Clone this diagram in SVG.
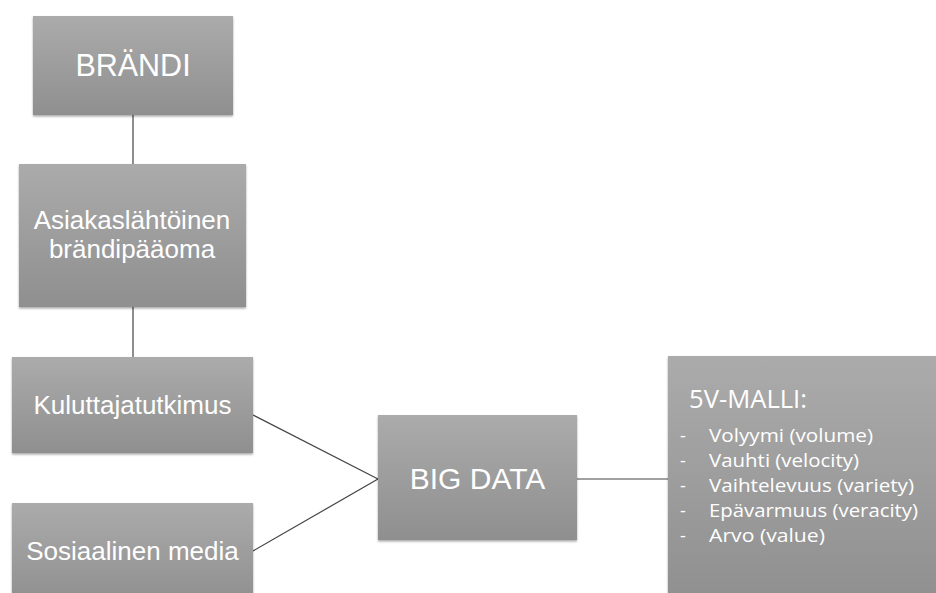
<svg xmlns="http://www.w3.org/2000/svg" width="936" height="593" viewBox="0 0 936 593">
  <defs>
    <linearGradient id="boxFill" x1="0" y1="0" x2="0" y2="1">
      <stop offset="0" stop-color="#ababab"/>
      <stop offset="1" stop-color="#8f8f8f"/>
    </linearGradient>
    <filter id="shadow" x="-5%" y="-5%" width="110%" height="115%">
      <feDropShadow dx="0" dy="1.5" stdDeviation="1.2" flood-color="#000" flood-opacity="0.35"/>
    </filter>
  </defs>
  <style>
    .box { fill: url(#boxFill); filter: url(#shadow); }
    .lbl { fill: #ffffff; font-family: "Liberation Sans", Arial, sans-serif; text-anchor: middle; }
    .list { fill: #ffffff; font-family: "Open Sans", "Noto Sans", sans-serif; }
    .conn { stroke: #444; stroke-width: 1.2; fill: none; }
  </style>
  <rect width="936" height="593" fill="#ffffff"/>

  <g id="connectors">
    <line class="conn" x1="133" y1="115" x2="133" y2="164"/>
    <line class="conn" x1="133" y1="307" x2="133" y2="357"/>
    <line class="conn" x1="253" y1="415" x2="378" y2="479"/>
    <line class="conn" x1="253" y1="551" x2="378" y2="479"/>
    <line class="conn" x1="577" y1="479" x2="668" y2="479"/>
  </g>

  <g id="brandi">
    <rect class="box" x="33" y="16" width="200" height="99"/>
    <text class="lbl" x="133" y="76" font-size="30.5">BRÄNDI</text>
  </g>

  <g id="asiakaslahtoinen">
    <rect class="box" x="19" y="164" width="227" height="143"/>
    <text class="lbl" x="132" y="229" font-size="26">Asiakaslähtöinen</text>
    <text class="lbl" x="132" y="258" font-size="26">brändipääoma</text>
  </g>

  <g id="kuluttajatutkimus">
    <rect class="box" x="12" y="357" width="241" height="96"/>
    <text class="lbl" x="132.5" y="414" font-size="26">Kuluttajatutkimus</text>
  </g>

  <g id="sosiaalinen">
    <rect class="box" x="12" y="503" width="241" height="100"/>
    <text class="lbl" x="132.5" y="560" font-size="26">Sosiaalinen media</text>
  </g>

  <g id="bigdata">
    <rect class="box" x="378" y="415" width="199" height="125"/>
    <text class="lbl" x="477.5" y="489" font-size="30">BIG DATA</text>
  </g>

  <g id="malli">
    <rect class="box" x="668" y="356" width="280" height="250"/>
    <text class="list" x="689" y="408" font-size="25" textLength="118" lengthAdjust="spacingAndGlyphs">5V-MALLI:</text>
    <g font-size="18">
      <text class="list" x="680" y="442">-</text>
      <text class="list" x="709" y="442" textLength="164" lengthAdjust="spacingAndGlyphs">Volyymi (volume)</text>
      <text class="list" x="680" y="467">-</text>
      <text class="list" x="709" y="467" textLength="150" lengthAdjust="spacingAndGlyphs">Vauhti (velocity)</text>
      <text class="list" x="680" y="492">-</text>
      <text class="list" x="709" y="492" textLength="205" lengthAdjust="spacingAndGlyphs">Vaihtelevuus (variety)</text>
      <text class="list" x="680" y="517">-</text>
      <text class="list" x="709" y="517" textLength="209" lengthAdjust="spacingAndGlyphs">Epävarmuus (veracity)</text>
      <text class="list" x="680" y="542">-</text>
      <text class="list" x="709" y="542" textLength="116" lengthAdjust="spacingAndGlyphs">Arvo (value)</text>
    </g>
  </g>
</svg>
